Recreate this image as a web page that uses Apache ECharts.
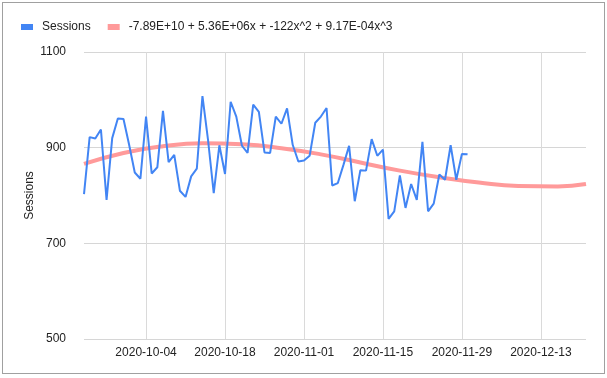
<!DOCTYPE html>
<html><head><meta charset="utf-8">
<script src="https://cdn.jsdelivr.net/npm/echarts@6/dist/echarts.min.js"></script>
<style>
html,body{margin:0;padding:0;background:#fff;}
#wrap{position:relative;width:607px;height:378px;}
#chart{position:absolute;left:0;top:0;width:607px;height:378px;}
#frame{position:absolute;left:2px;top:2px;width:601px;height:370px;border:1px solid #a0a0a0;pointer-events:none;}
</style>
</head><body>
<div id="wrap"><div id="chart"></div><div id="frame"></div></div>
<script>
// Sessions per day, 2020-09-23 .. 2020-11-30
const startDate = '2020-09-23';
const sessions = [803,922,919,938,791,920,961,960,906,848,835,965,846,859,977,870,885,810,797,840,856,1008,915,805,905,845,996,965,904,889,990,975,890,889,965,950,982,906,871,873,883,952,965,983,821,826,864,904,788,853,852,918,883,896,751,767,842,774,824,791,912,767,783,844,833,905,833,887,886];
// Trendline
const trendDates = ['2020-09-23','2020-09-30','2020-10-07','2020-10-14','2020-10-21','2020-10-28','2020-11-04','2020-11-11','2020-11-18','2020-11-25','2020-12-02','2020-12-09','2020-12-16','2020-12-21'];
const trendValues = [866,889,903,909,907,899,886,869,852,838,827,820,819,824];
const tickDates = ['2020-10-04','2020-10-18','2020-11-01','2020-11-15','2020-11-29','2020-12-13'];
const axisMinDate = '2020-09-23';
const axisMaxDate = '2020-12-21';
const seriesNames = ['Sessions','-7.89E+10 + 5.36E+06x + -122x^2 + 9.17E-04x^3'];

function ts(s){const p=s.split('-').map(Number);return Date.UTC(p[0],p[1]-1,p[2]);}
function fmt(v){const d=new Date(v);const m=d.getUTCMonth()+1,dd=d.getUTCDate();return d.getUTCFullYear()+'-'+(m<10?'0':'')+m+'-'+(dd<10?'0':'')+dd;}
const DAY=86400000;
const s0=ts(startDate);
const sessionData=sessions.map((v,i)=>[s0+i*DAY,v]);
const trendData=trendDates.map((d,i)=>[ts(d),trendValues[i]]);
const tickVals=tickDates.map(ts);

const chart=echarts.init(document.getElementById('chart'),null,{renderer:'canvas'});
const font='Arial, "Liberation Sans", sans-serif';
chart.setOption({
  animation:false,
  textStyle:{fontFamily:font},
  grid:{left:84,right:21,top:52,bottom:39,containLabel:false},
  legend:{
    left:16,top:16,itemWidth:12,itemHeight:6,itemGap:17,
    textStyle:{fontFamily:font,fontSize:12,color:'#222',padding:[0,0,0,4]},
    data:[{name:seriesNames[0],icon:'rect'},{name:seriesNames[1],icon:'rect'}]
  },
  xAxis:{
    type:'value',
    min:ts(axisMinDate),max:ts(axisMaxDate),
    axisLine:{show:false},
    axisTick:{show:false,customValues:tickVals},
    axisLabel:{customValues:tickVals,formatter:v=>fmt(v),fontFamily:font,fontSize:12,color:'#222',margin:8},
    splitLine:{show:true,lineStyle:{color:'#dadada',width:1}}
  },
  yAxis:{
    type:'value',min:500,max:1100,interval:200,
    name:'Sessions',nameLocation:'middle',nameGap:48,nameRotate:90,nameMoveOverlap:false,
    nameTextStyle:{fontFamily:font,fontSize:12,color:'#222'},
    axisLine:{show:false},axisTick:{show:false},
    axisLabel:{fontFamily:font,fontSize:12,color:'#222',margin:18,formatter:v=>String(v)},
    splitLine:{lineStyle:{color:'#d6d6d6',width:1}}
  },
  series:[
    {name:seriesNames[0],type:'line',data:sessionData,showSymbol:false,symbol:'none',
     lineStyle:{color:'#4285f4',width:2},itemStyle:{color:'#4285f4'},z:3},
    {name:seriesNames[1],type:'line',data:trendData,smooth:0.5,showSymbol:false,symbol:'none',
     lineStyle:{color:'#ff9a9a',width:4},itemStyle:{color:'#ff9a9a'},z:2}
  ]
});
</script>
</body></html>
